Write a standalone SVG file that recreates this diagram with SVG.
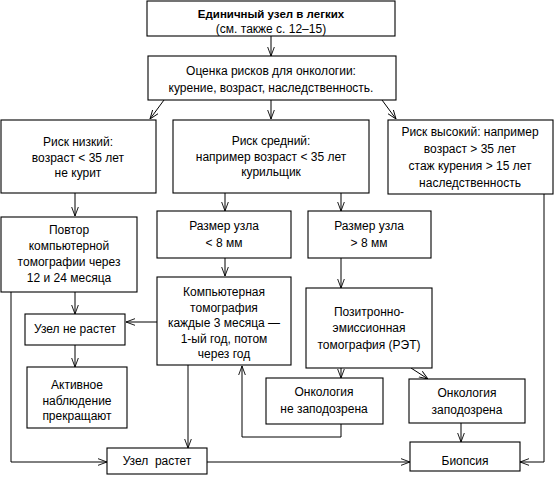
<svg xmlns="http://www.w3.org/2000/svg" width="555" height="477" viewBox="0 0 555 477">
<defs>
<marker id="arr" viewBox="0 0 10 10" refX="10" refY="5" markerWidth="9" markerHeight="9" markerUnits="userSpaceOnUse" orient="auto">
<path d="M0,1.3 L10,5 L0,8.7" fill="none" stroke="#000" stroke-width="1"/>
</marker>
</defs>
<style>
rect{fill:#fff;stroke:#000;stroke-width:1.1}
text{font-family:"Liberation Sans",Arial,sans-serif;font-size:12px;fill:#000;text-anchor:middle}
.b{font-weight:bold;font-size:11.5px}
#connectors path,#connectors line{fill:none;stroke:#000;stroke-width:1}
</style>
<rect x="0" y="0" width="555" height="477" style="fill:#fff;stroke:none"/>
<g id="connectors">
<line x1="271" y1="36" x2="271" y2="56" marker-end="url(#arr)"/>
<line x1="164" y1="100" x2="150" y2="119" marker-end="url(#arr)"/>
<line x1="271" y1="100" x2="271" y2="119" marker-end="url(#arr)"/>
<line x1="382" y1="100" x2="396" y2="119" marker-end="url(#arr)"/>
<line x1="75" y1="193" x2="75" y2="216" marker-end="url(#arr)"/>
<line x1="225" y1="193" x2="225" y2="211" marker-end="url(#arr)"/>
<line x1="341" y1="193" x2="341" y2="211" marker-end="url(#arr)"/>
<line x1="225" y1="258" x2="225" y2="276" marker-end="url(#arr)"/>
<line x1="341" y1="258" x2="341" y2="288" marker-end="url(#arr)"/>
<line x1="75" y1="292" x2="75" y2="314" marker-end="url(#arr)"/>
<line x1="157" y1="322" x2="126" y2="322" marker-end="url(#arr)"/>
<line x1="75" y1="345" x2="75" y2="367" marker-end="url(#arr)"/>
<path d="M11,292 V462 H107" marker-end="url(#arr)"/>
<line x1="188" y1="365" x2="188" y2="448" marker-end="url(#arr)"/>
<line x1="207" y1="462" x2="410" y2="462" marker-end="url(#arr)"/>
<line x1="341" y1="368" x2="341" y2="378" marker-end="url(#arr)"/>
<path d="M341,424 V437 H242 V366" marker-end="url(#arr)"/>
<line x1="411" y1="368" x2="428" y2="379" marker-end="url(#arr)"/>
<line x1="461" y1="423" x2="461" y2="442" marker-end="url(#arr)"/>
<path d="M544,194 V462 H520" marker-end="url(#arr)"/>
</g>
<g id="n1"><rect x="147" y="1" width="248" height="35"/><text x="271" y="18" class="b">Единичный узел в легких</text><text x="271" y="33">(см. также с. 12–15)</text></g>
<g id="n2"><rect x="148" y="56" width="248" height="44"/><text x="271" y="75">Оценка рисков для онкологии:</text><text x="271" y="92">курение, возраст, наследственность.</text></g>
<g id="n3"><rect x="1" y="120" width="155" height="73"/><text x="78" y="146">Риск низкий:</text><text x="78" y="162">возраст &lt; 35 лет</text><text x="78" y="177">не курит</text></g>
<g id="n4"><rect x="173" y="120" width="196" height="73"/><text x="271" y="145">Риск средний:</text><text x="271" y="161">например возраст &lt; 35 лет</text><text x="271" y="176">курильщик</text></g>
<g id="n5"><rect x="388" y="120" width="165" height="74"/><text x="470" y="136">Риск высокий: например</text><text x="470" y="153">возраст &gt; 35 лет</text><text x="470" y="170">стаж курения &gt; 15 лет</text><text x="470" y="187">наследственность</text></g>
<g id="n6"><rect x="1" y="217" width="136" height="75"/><text x="69" y="234">Повтор</text><text x="69" y="250">компьютерной</text><text x="69" y="266">томографии через</text><text x="69" y="282">12 и 24 месяца</text></g>
<g id="n7"><rect x="157" y="211" width="134" height="47"/><text x="224" y="230">Размер узла</text><text x="224" y="247">&lt; 8 мм</text></g>
<g id="n8"><rect x="308" y="211" width="123" height="47"/><text x="369" y="230">Размер узла</text><text x="369" y="247">&gt; 8 мм</text></g>
<g id="n9"><rect x="157" y="277" width="134" height="88"/><text x="224" y="296">Компьютерная</text><text x="224" y="312">томография</text><text x="224" y="327">каждые 3 месяца —</text><text x="224" y="343">1-ый год, потом</text><text x="224" y="358">через год</text></g>
<g id="n10"><rect x="306" y="288" width="126" height="80"/><text x="369" y="316">Позитронно-</text><text x="369" y="332">эмиссионная</text><text x="369" y="349">томография (РЭТ)</text></g>
<g id="n11"><rect x="25" y="314" width="100" height="31"/><text x="75" y="333">Узел не растет</text></g>
<g id="n12"><rect x="27" y="367" width="100" height="61"/><text x="77" y="389">Активное</text><text x="77" y="405">наблюдение</text><text x="77" y="420">прекращают</text></g>
<g id="n13"><rect x="266" y="378" width="117" height="46"/><text x="324" y="396">Онкология</text><text x="324" y="413">не заподозрена</text></g>
<g id="n14"><rect x="409" y="379" width="116" height="44"/><text x="467" y="397">Онкология</text><text x="467" y="414">заподозрена</text></g>
<g id="n15"><rect x="107" y="448" width="100" height="26"/><text x="157" y="465" xml:space="preserve">Узел  растет</text></g>
<g id="n16"><rect x="410" y="442" width="110" height="29"/><text x="465" y="465">Биопсия</text></g>
</svg>
